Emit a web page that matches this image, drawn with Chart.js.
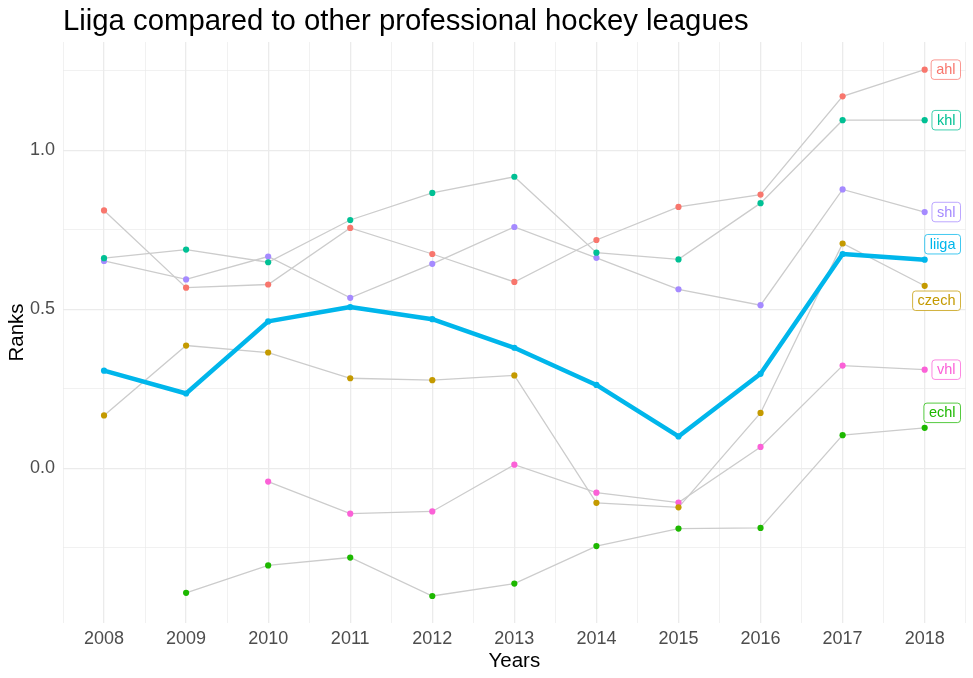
<!DOCTYPE html>
<html><head><meta charset="utf-8">
<script src="https://cdn.jsdelivr.net/npm/chart.js@4"></script>
<style>html,body{margin:0;padding:0;background:#fff;overflow:hidden}canvas{display:block}</style>
</head><body>
<canvas id="c" width="973" height="678"></canvas>
<script>
const years = [2008,2009,2010,2011,2012,2013,2014,2015,2016,2017,2018];
const ahl   = [0.811,0.568,0.578,0.756,0.674,0.586,0.718,0.822,0.861,1.170,1.254];
const khl   = [0.661,0.688,0.648,0.781,0.866,0.917,0.678,0.657,0.834,1.095,1.095];
const shl   = [0.652,0.594,0.666,0.536,0.643,0.759,0.662,0.563,0.513,0.877,0.806];
const liiga = [0.307,0.235,0.462,0.507,0.469,0.379,0.262,0.100,0.297,0.674,0.656];
const czech = [0.166,0.386,0.364,0.283,0.277,0.292,-0.109,-0.123,0.174,0.707,0.574];
const vhl   = [null,null,-0.042,-0.143,-0.136,0.011,-0.077,-0.108,0.067,0.323,0.310];
const echl  = [null,-0.392,-0.306,-0.281,-0.402,-0.363,-0.245,-0.190,-0.188,0.104,0.127];
const leagueNames = ['ahl','czech','echl','khl','liiga','shl','vhl'];
const yTicks = [-0.25,0,0.25,0.5,0.75,1.0,1.25];
const xTicks = [2007.5,2008,2008.5,2009,2009.5,2010,2010.5,2011,2011.5,2012,2012.5,2013,2013.5,2014,2014.5,2015,2015.5,2016,2016.5,2017,2017.5,2018,2018.5];

const series = {ahl, czech, echl, khl, liiga, shl, vhl};
const colors = {ahl:'#F8766D', czech:'#C49A00', echl:'#1DB800', khl:'#00C094', liiga:'#00B6EB', shl:'#A58AFF', vhl:'#FB61D7'};
const labelDy = {ahl:0, czech:15, echl:-15, khl:0, liiga:-15.5, shl:0, vhl:0};
const FONT = '"Liberation Sans", Arial, Helvetica, sans-serif';

function pts(arr){ return years.map((y,i)=>({x:y, y:arr[i]})); }

const datasets = [];
leagueNames.forEach(n=>{
  if(n==='liiga') return;
  datasets.push({label:n+'-line', data:pts(series[n]), borderColor:'#CCCCCC', borderWidth:1.3, pointRadius:0, fill:false, spanGaps:false, order:5});
});
leagueNames.forEach(n=>{
  if(n==='liiga') return;
  datasets.push({label:n, data:pts(series[n]), showLine:false, pointRadius:3.1, pointBorderWidth:0, pointBackgroundColor:colors[n], pointBorderColor:colors[n], order:3});
});
datasets.push({label:'liiga', data:pts(liiga), borderColor:colors.liiga, borderWidth:4.5, pointRadius:3.1, pointBorderWidth:0, pointBackgroundColor:colors.liiga, borderJoinStyle:'round', borderCapStyle:'round', order:1});

const decor = {
  id:'decor',
  afterDatasetsDraw(chart){
    const ctx = chart.ctx, xs = chart.scales.x, ys = chart.scales.y, ca = chart.chartArea;
    ctx.save();
    ctx.font = '14.5px '+FONT;
    leagueNames.forEach(n=>{
      const arr = series[n];
      const v = arr[arr.length-1];
      const px = xs.getPixelForValue(years[years.length-1]);
      const py = ys.getPixelForValue(v) + labelDy[n];
      const tw = ctx.measureText(n).width;
      const w = tw + 11, h = 20.5;
      let left = Math.min(px + 7, ca.right - 4.7 - w);
      const top = py - h/2;
      ctx.beginPath();
      ctx.roundRect(left+0.5, top+0.5, w-1, h-1, 3);
      ctx.fillStyle = 'rgba(255,255,255,0.85)';
      ctx.fill();
      ctx.globalAlpha = 0.75;
      ctx.strokeStyle = colors[n];
      ctx.lineWidth = 1;
      ctx.stroke();
      ctx.globalAlpha = 1;
      ctx.fillStyle = colors[n];
      ctx.textAlign = 'center';
      ctx.textBaseline = 'middle';
      ctx.fillText(n, left + w/2, py + 0.5);
    });
    ctx.restore();
  },
  afterDraw(chart){
    const ctx = chart.ctx, ca = chart.chartArea;
    ctx.save();
    ctx.fillStyle = '#000';
    ctx.font = '29.3px '+FONT;
    ctx.textAlign = 'left';
    ctx.textBaseline = 'alphabetic';
    ctx.fillText('Liiga compared to other professional hockey leagues', 63, 30);
    ctx.font = '20.5px '+FONT;
    ctx.textAlign = 'center';
    ctx.fillText('Years', (ca.left+ca.right)/2, 667);
    ctx.translate(23.3, (ca.top+ca.bottom)/2);
    ctx.rotate(-Math.PI/2);
    ctx.fillText('Ranks', 0, 0);
    ctx.restore();
  }
};

new Chart(document.getElementById('c'), {
  type:'line',
  data:{datasets},
  options:{
    responsive:false, animation:false, devicePixelRatio:1,
    layout:{padding:{top:42, right:7.3, left:0, bottom:0}},
    plugins:{legend:{display:false}, title:{display:false}, tooltip:{enabled:false}},
    scales:{
      x:{type:'linear', min:2007.5, max:2018.5,
        afterBuildTicks(s){ s.ticks = xTicks.map(v=>({value:v})); },
        afterFit(s){ s.height = 55; },
        border:{display:false},
        grid:{drawTicks:false, color:'#EBEBEB', lineWidth:c=>Number.isInteger(c.tick.value)?1.3:0.7},
        ticks:{autoSkip:false, maxRotation:0, padding:5, color:'#4D4D4D', font:{family:FONT, size:18},
          callback:v=>Number.isInteger(v)?String(v):''}
      },
      y:{type:'linear', min:-0.487, max:1.341,
        afterBuildTicks(s){ s.ticks = yTicks.map(v=>({value:v})); },
        afterFit(s){ s.width = 63; },
        border:{display:false},
        grid:{drawTicks:false, color:'#EBEBEB', lineWidth:c=>(Math.abs(c.tick.value*2-Math.round(c.tick.value*2))<1e-9)?1.3:0.7},
        ticks:{autoSkip:false, padding:8, color:'#4D4D4D', font:{family:FONT, size:18},
          callback:v=>(Math.abs(v*2-Math.round(v*2))<1e-9)?v.toFixed(1):''}
      }
    }
  },
  plugins:[decor]
});
</script>
</body></html>
